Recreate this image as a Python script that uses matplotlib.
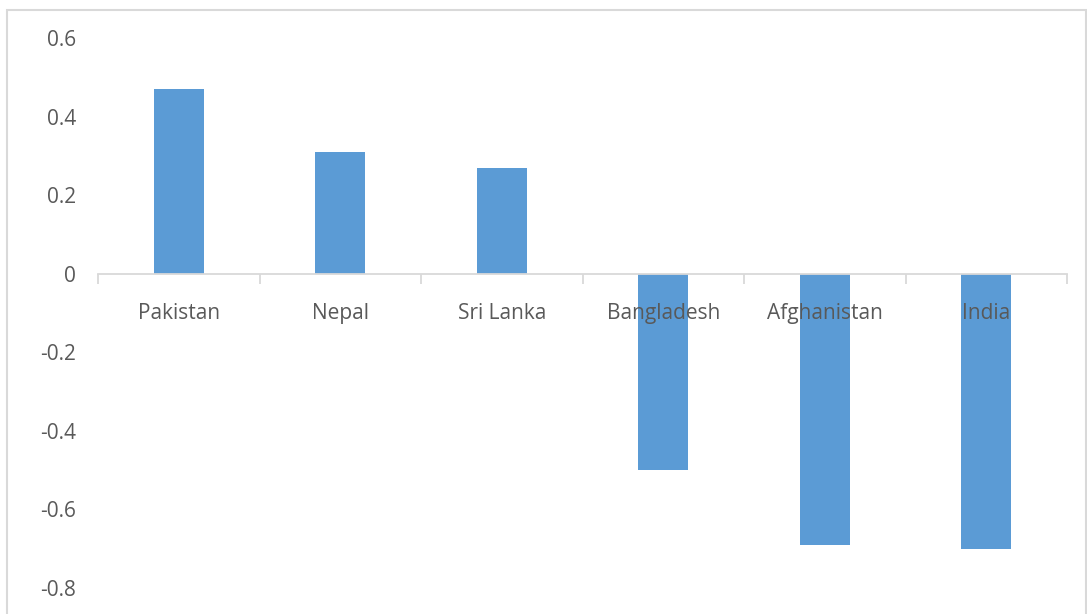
import matplotlib.pyplot as plt
from matplotlib.patches import Rectangle

countries = ['Pakistan', 'Nepal', 'Sri Lanka', 'Bangladesh', 'Afghanistan', 'India']
values = [0.47, 0.31, 0.27, -0.50, -0.69, -0.70]
y_ticks = [-0.8, -0.6, -0.4, -0.2, 0, 0.2, 0.4, 0.6]
y_labels = ['-0.8', '-0.6', '-0.4', '-0.2', '0', '0.2', '0.4', '0.6']

bar_color = '#5B9BD5'
text_color = '#595959'
line_color = '#D9D9D9'

plt.rcParams['font.family'] = ['Open Sans', 'DejaVu Sans']

fig = plt.figure(figsize=(10.87, 6.14), dpi=100)
ax = fig.add_axes([98 / 1087, 26 / 614, 969 / 1087, 550 / 614])

x = list(range(len(countries)))
ax.bar(x, values, width=0.31, color=bar_color, zorder=1)

ax.set_xlim(-0.5, len(countries) - 0.5)
ax.set_ylim(-0.8, 0.6)

# y axis: labels only
ax.set_yticks(y_ticks)
ax.set_yticklabels(y_labels)
ax.tick_params(axis='y', length=0, pad=16, labelsize=15, labelcolor=text_color)

# category axis sits on zero, tick marks between categories
for side in ['top', 'right', 'left']:
    ax.spines[side].set_visible(False)
ax.spines['bottom'].set_position(('data', 0))
ax.spines['bottom'].set_color(line_color)
ax.spines['bottom'].set_linewidth(1.3)
ax.set_xticks(x)
ax.set_xticklabels(countries)
ax.tick_params(axis='x', which='major', length=0, pad=21, labelsize=15, labelcolor=text_color)
ax.set_xticks([i - 0.5 for i in range(len(countries) + 1)], minor=True)
ax.tick_params(axis='x', which='minor', length=7, width=1.3, color=line_color)

# chart border
fig.patches.append(Rectangle((7 / 1087, -0.05), 1079 / 1087, 1.05 - 10 / 614,
                             transform=fig.transFigure, fill=False,
                             edgecolor=line_color, linewidth=1.5))

fig.savefig('out.png', dpi=100)
